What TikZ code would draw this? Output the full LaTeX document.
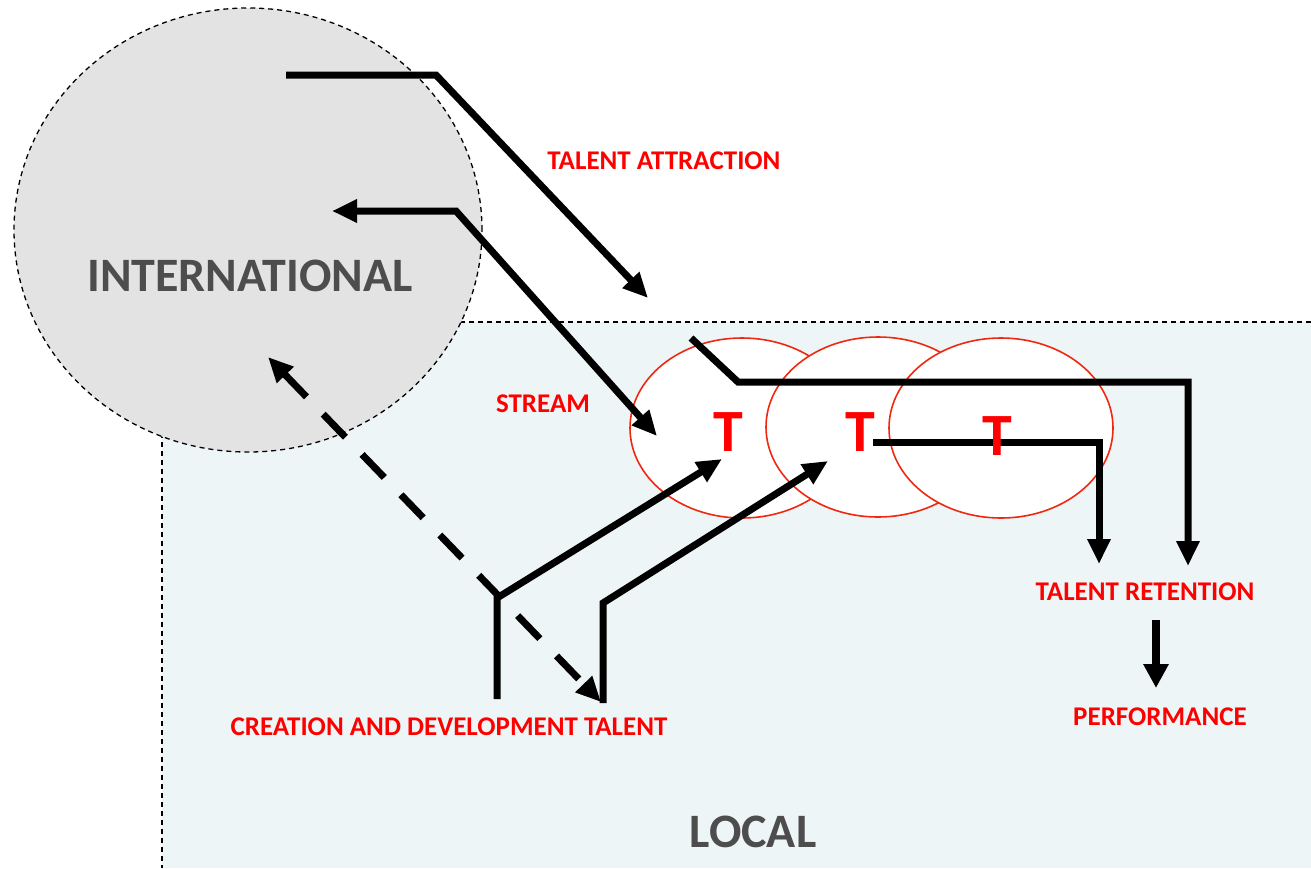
\documentclass[tikz,border=0pt]{standalone}
\usepackage{fontspec}
\setmainfont{Carlito}
\usetikzlibrary{arrows.meta,shapes.geometric}
\definecolor{localfill}{HTML}{EDF5F7}
\definecolor{intlfill}{HTML}{E3E3E3}
\definecolor{darktext}{HTML}{4D4D4D}
\definecolor{ellred}{HTML}{F02810}
\definecolor{labred}{HTML}{FF0000}
\tikzset{
  region/.style={draw=black, line width=1.3pt, dash pattern=on 5pt off 4pt},
  tellipse/.style={ellipse, draw=ellred, line width=1.6pt, fill=white, minimum width=224pt, minimum height=180pt, inner sep=0pt},
  bigtext/.style={text=darktext, font=\fontsize{48}{48}\selectfont\bfseries},
  tletter/.style={text=labred, font=\fontsize{60}{60}\selectfont\bfseries},
  lab/.style={text=labred, font=\fontsize{27}{27}\selectfont\bfseries},
  flow/.style={line width=7pt, -{Triangle[length=25pt,width=22pt]}},
  flowboth/.style={line width=7pt, {Triangle[length=25pt,width=22pt]}-{Triangle[length=25pt,width=22pt]}},
  flowdash/.style={line width=7pt, dash pattern=on 32pt off 24pt, {Triangle[length=25pt,width=22pt]}-{Triangle[length=25pt,width=22pt]}},
}
\begin{document}
\begin{tikzpicture}[x=1pt,y=-1pt]
\useasboundingbox (0,0) rectangle (1311,868);
% local region
\fill[localfill] (162,322) rectangle (1311,868);
\draw[region] (1311,322) -- (162,322) -- (162,868);
% international
\node[ellipse, draw=black, line width=1.3pt, dash pattern=on 5pt off 4pt, fill=intlfill, minimum width=468pt, minimum height=444pt, inner sep=0pt] (intl) at (248,230) {};
\node[bigtext] (intltext) at (250,276) {INTERNATIONAL};
\node[bigtext] (local) at (753,832) {LOCAL};
% talent ellipses
\node[tellipse] (e1) at (742,428) {};
\node[tellipse] (e2) at (878,427) {};
\node[tellipse] (e3) at (1001,428) {};
% coordinates
\coordinate (a1s) at (286,75);
\coordinate (a1c) at (436,75);
\coordinate (a1e) at (648,298);
\coordinate (a2s) at (332,211);
\coordinate (a2c) at (456,211);
\coordinate (a2e) at (657,436);
\coordinate (a3s) at (691,338);
\coordinate (a3c) at (738,382);
\coordinate (a3k) at (1188,382);
\coordinate (a3e) at (1188,566);
\coordinate (a4s) at (873,442);
\coordinate (a4c) at (1099,442);
\coordinate (a4e) at (1099,564);
\coordinate (a5s) at (497,699);
\coordinate (a5c) at (497,598);
\coordinate (a5e) at (722,459);
\coordinate (a6s) at (603,703);
\coordinate (a6c) at (603,603);
\coordinate (a6e) at (828,461);
\coordinate (dtop) at (268,357);
\coordinate (dbot) at (601,702);
\coordinate (ps) at (1156,620);
\coordinate (pe) at (1156,688);
% labels
\node[lab] (attr) at (664,161) {TALENT ATTRACTION};
\node[lab] (stream) at (543,404) {STREAM};
\node[lab] (create) at (449,727) {CREATION AND DEVELOPMENT TALENT};
\node[lab] (retain) at (1145,592) {TALENT RETENTION};
\node[lab] (perf) at (1160,717) {PERFORMANCE};
% connectors
\draw[flow] (a1s) -- (a1c) -- (a1e);
\draw[flowboth] (a2s) -- (a2c) -- (a2e);
\draw[flow] (a3s) -- (a3c) -- (a3k) -- (a3e);
\draw[flow] (a4s) -- (a4c) -- (a4e);
\draw[flow] (a5s) -- (a5c) -- (a5e);
\draw[flow] (a6s) -- (a6c) -- (a6e);
\draw[flowdash] (dtop) -- (dbot);
\draw[line width=8pt, -{Triangle[length=24pt,width=24pt]}] (ps) -- (pe);
% T letters
\node[tletter] (t1) at (728,432) {T};
\node[tletter] (t2) at (860,432) {T};
\node[tletter] (t3) at (997,436) {T};
\end{tikzpicture}
\end{document}
